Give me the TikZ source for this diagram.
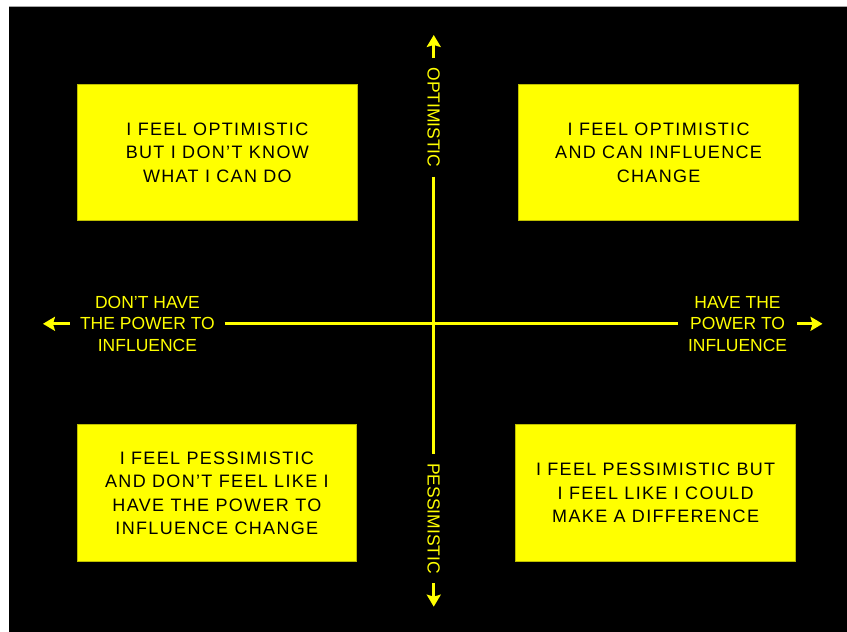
\documentclass[tikz,border=0pt]{standalone}
\usepackage{fontspec}
\setmainfont{Liberation Sans}
\newfontfamily\quadfont[LetterSpace=7.5]{Liberation Sans}
\usetikzlibrary{arrows.meta, positioning}

\definecolor{signyellow}{RGB}{255,255,0}
\definecolor{boxedge}{RGB}{190,190,0}

\begin{document}
\begin{tikzpicture}[
				x=1pt, y=-1pt,
				quadrant/.style={
					rectangle,
					draw=boxedge,
					fill=signyellow,
					line width=0.8pt,
					minimum width=280pt,
					minimum height=137pt,
					align=center,
					text=black,
					font=\quadfont\fontsize{18}{23.5}\selectfont
				},
				axislabel/.style={
					text=signyellow,
					align=center,
					inner xsep=10pt,
					inner ysep=0pt,
					font=\fontsize{17.5}{21.5}\selectfont
				},
				axis/.style={
					draw=signyellow,
					line width=3pt
				},
				arrow/.style={
					axis,
					-{Stealth[length=12pt, width=14pt, inset=2pt]}
				}
				]
				
				% Page and black panel
				\fill[white] (0,0) rectangle (847,632);
				\fill[black] (9,7) rectangle (847,632);
				\draw[gray!70, line width=1pt] (9,6.5) -- (847,6.5);
				
				% Axis ends
				\coordinate (topend) at (434,35);
				\coordinate (bottomend) at (434,607);
				\coordinate (leftend) at (43,324);
				\coordinate (rightend) at (823,324);
				
				% Axis labels
				\node[axislabel, rotate=-90, inner xsep=9pt] (optimistic) at (434,117.5) {OPTIMISTIC};
				\node[axislabel, rotate=-90, inner xsep=9pt] (pessimistic) at (434,519) {PESSIMISTIC};
				\node[axislabel] (nopower) at (147.5,324) {DON’T HAVE \\ THE POWER TO \\ INFLUENCE};
				\node[axislabel] (power) at (738,324) {HAVE THE \\ POWER TO \\ INFLUENCE};
				
				% Vertical axis
				\draw[arrow] (optimistic.west) -- (topend);
				\draw[axis] (optimistic.east) -- (pessimistic.west);
				\draw[arrow] (pessimistic.east) -- (bottomend);
				
				% Horizontal axis
				\draw[arrow] (nopower.west) -- (leftend);
				\draw[axis] (nopower.east) -- (power.west);
				\draw[arrow] (power.east) -- (rightend);
				
				% Quadrant 1: optimistic, no power
				\node[quadrant] (optnopower) at (217.5,152.5) {I FEEL OPTIMISTIC \\ BUT I DON’T KNOW \\ WHAT I CAN DO};
				
				% Quadrant 2: optimistic, power
				\node[quadrant] (optpower) at (659,152.5) {I FEEL OPTIMISTIC \\ AND CAN INFLUENCE \\ CHANGE};
				
				% Quadrant 3: pessimistic, no power
				\node[quadrant] (pessnopower) at (217,493.5) {I FEEL PESSIMISTIC \\ AND DON’T FEEL LIKE I \\ HAVE THE POWER TO \\ INFLUENCE CHANGE};
				
				% Quadrant 4: pessimistic, power
				\node[quadrant] (pesspower) at (656,493.5) {I FEEL PESSIMISTIC BUT \\ I FEEL LIKE I COULD \\ MAKE A DIFFERENCE};
				
			\end{tikzpicture}
\end{document}
